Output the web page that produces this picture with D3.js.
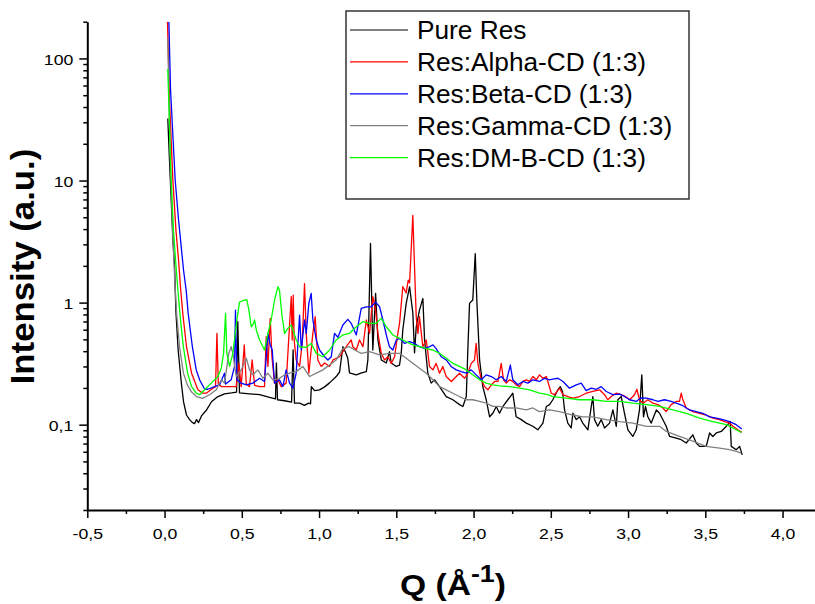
<!DOCTYPE html>
<html>
<head>
<meta charset="utf-8">
<script src="https://cdn.jsdelivr.net/npm/d3@7"></script>
<style>
  body { margin: 0; background: #fff; }
  svg { display: block; font-family: "Liberation Sans", Arial, sans-serif; }
</style>
</head>
<body>
<svg id="chart" width="815" height="604"></svg>
<script>
// SAXS curves: [Q (1/Å), intensity (a.u.)]
const pureRes = [[0.021,32.2],[0.032,14.6],[0.043,6.9],[0.054,3.24],[0.065,1.95],[0.073,0.868],[0.088,0.409],[0.110,0.212],[0.123,0.154],[0.142,0.12],[0.162,0.11],[0.181,0.104],[0.194,0.102],[0.207,0.11],[0.220,0.104],[0.239,0.118],[0.272,0.132],[0.304,0.154],[0.343,0.169],[0.388,0.179],[0.434,0.182],[0.466,0.185],[0.474,0.7],[0.485,0.182],[0.55,0.179],[0.615,0.176],[0.68,0.167],[0.718,0.163],[0.724,0.32],[0.731,0.16],[0.777,0.157],[0.822,0.153],[0.832,0.41],[0.841,0.15],[0.874,0.15],[0.906,0.144],[0.932,0.15],[0.945,0.148],[0.95,0.205],[0.971,0.19],[1.003,0.193],[1.036,0.204],[1.068,0.22],[1.111,0.248],[1.133,0.27],[1.154,0.435],[1.172,0.39],[1.186,0.35],[1.197,0.266],[1.241,0.256],[1.275,0.266],[1.306,0.272],[1.316,0.339],[1.333,3.05],[1.348,0.409],[1.366,1.19],[1.381,0.494],[1.403,0.339],[1.435,0.32],[1.456,0.397],[1.467,0.32],[1.5,0.3],[1.521,0.308],[1.532,0.387],[1.542,0.596],[1.564,0.985],[1.586,1.35],[1.607,0.82],[1.618,0.387],[1.629,0.634],[1.65,0.868],[1.672,1.08],[1.683,0.494],[1.704,0.264],[1.726,0.219],[1.748,0.233],[1.78,0.205],[1.823,0.17],[1.866,0.16],[1.909,0.146],[1.931,0.141],[1.953,0.17],[1.963,0.409],[1.974,0.985],[1.995,1.05],[2.011,2.52],[2.021,1.05],[2.039,0.339],[2.06,0.205],[2.082,0.16],[2.104,0.116],[2.125,0.124],[2.147,0.141],[2.168,0.124],[2.19,0.141],[2.222,0.16],[2.254,0.181],[2.276,0.116],[2.309,0.11],[2.341,0.103],[2.384,0.097],[2.416,0.0908],[2.449,0.103],[2.471,0.141],[2.492,0.146],[2.513,0.16],[2.546,0.193],[2.561,0.205],[2.576,0.187],[2.589,0.132],[2.61,0.103],[2.632,0.094],[2.643,0.124],[2.665,0.11],[2.686,0.116],[2.707,0.103],[2.74,0.0908],[2.762,0.141],[2.772,0.17],[2.783,0.11],[2.804,0.097],[2.826,0.11],[2.848,0.094],[2.88,0.103],[2.902,0.132],[2.924,0.097],[2.934,0.16],[2.956,0.17],[2.977,0.124],[2.999,0.0908],[3.031,0.0801],[3.053,0.0908],[3.074,0.132],[3.089,0.256],[3.1,0.116],[3.113,0.141],[3.128,0.116],[3.15,0.103],[3.183,0.132],[3.204,0.124],[3.247,0.097],[3.269,0.0801],[3.312,0.0776],[3.344,0.0753],[3.377,0.0708],[3.419,0.0825],[3.441,0.0708],[3.463,0.0664],[3.506,0.0664],[3.528,0.0855],[3.549,0.0801],[3.571,0.0855],[3.603,0.088],[3.636,0.097],[3.661,0.106],[3.668,0.0664],[3.7,0.0624],[3.722,0.0664],[3.739,0.0566]];

const alphaCD = [[0.019,200],[0.032,45],[0.054,10],[0.074,3.9],[0.091,2.2],[0.104,1.3],[0.118,0.816],[0.142,0.435],[0.175,0.264],[0.216,0.193],[0.248,0.181],[0.27,0.181],[0.313,0.199],[0.33,0.205],[0.339,0.56],[0.348,0.215],[0.367,0.205],[0.421,0.205],[0.464,0.205],[0.481,0.318],[0.496,0.205],[0.516,0.45],[0.529,0.215],[0.55,0.205],[0.567,0.339],[0.583,0.21],[0.615,0.205],[0.647,0.205],[0.658,0.526],[0.669,0.3],[0.684,0.743],[0.695,0.36],[0.712,0.219],[0.734,0.233],[0.755,0.205],[0.787,0.219],[0.82,1.12],[0.826,0.494],[0.833,1.15],[0.839,0.494],[0.852,0.339],[0.874,0.3],[0.891,0.463],[0.906,1.43],[0.917,0.56],[0.934,0.264],[0.949,0.409],[0.96,0.56],[0.975,0.766],[0.992,0.339],[1.014,0.3],[1.036,0.32],[1.068,0.3],[1.09,0.339],[1.133,0.36],[1.176,0.435],[1.208,0.494],[1.219,0.435],[1.241,0.409],[1.262,0.494],[1.284,0.435],[1.306,0.72],[1.327,0.56],[1.348,1.12],[1.366,0.868],[1.381,0.56],[1.403,0.384],[1.424,0.339],[1.446,0.36],[1.467,0.318],[1.489,0.36],[1.51,0.56],[1.521,0.676],[1.542,1.35],[1.564,1.2],[1.577,1.53],[1.586,1.45],[1.607,5.19],[1.618,1.96],[1.629,0.766],[1.64,0.56],[1.65,0.766],[1.672,0.435],[1.694,0.494],[1.715,0.3],[1.737,0.281],[1.758,0.318],[1.78,0.264],[1.801,0.3],[1.823,0.248],[1.856,0.226],[1.877,0.24],[1.909,0.264],[1.942,0.24],[1.963,0.264],[1.985,0.318],[2.006,0.339],[2.017,0.463],[2.028,0.318],[2.05,0.233],[2.071,0.205],[2.093,0.193],[2.115,0.212],[2.136,0.226],[2.158,0.226],[2.179,0.318],[2.194,0.233],[2.212,0.219],[2.233,0.233],[2.254,0.226],[2.276,0.212],[2.298,0.205],[2.319,0.226],[2.341,0.233],[2.362,0.226],[2.384,0.248],[2.406,0.233],[2.427,0.256],[2.449,0.24],[2.471,0.248],[2.481,0.226],[2.503,0.181],[2.524,0.176],[2.557,0.199],[2.579,0.176],[2.611,0.17],[2.643,0.165],[2.686,0.17],[2.729,0.181],[2.772,0.187],[2.816,0.193],[2.848,0.176],[2.869,0.16],[2.891,0.17],[2.923,0.181],[2.956,0.176],[2.984,0.17],[3.01,0.16],[3.042,0.176],[3.057,0.195],[3.074,0.16],[3.096,0.15],[3.128,0.16],[3.161,0.15],[3.193,0.146],[3.226,0.137],[3.247,0.128],[3.279,0.146],[3.312,0.155],[3.333,0.155],[3.344,0.181],[3.355,0.16],[3.377,0.137],[3.419,0.128],[3.463,0.124],[3.506,0.12],[3.549,0.113],[3.592,0.11],[3.625,0.106],[3.657,0.103],[3.679,0.097],[3.711,0.0908],[3.736,0.0865]];

const betaCD = [[0.028,200],[0.039,54.5],[0.069,10],[0.091,4.72],[0.11,2.69],[0.123,1.84],[0.14,1.26],[0.153,0.816],[0.18,0.435],[0.205,0.281],[0.227,0.233],[0.259,0.196],[0.28,0.195],[0.324,0.205],[0.356,0.212],[0.388,0.264],[0.395,0.215],[0.431,0.233],[0.453,0.3],[0.459,0.868],[0.468,0.233],[0.496,0.219],[0.529,0.212],[0.572,0.219],[0.615,0.24],[0.647,0.226],[0.669,0.56],[0.684,0.45],[0.697,0.409],[0.712,0.219],[0.744,0.233],[0.766,0.205],[0.787,0.281],[0.809,0.219],[0.831,0.199],[0.852,0.264],[0.874,0.79],[0.885,0.409],[0.906,0.72],[0.917,0.56],[0.934,0.985],[0.949,1.19],[0.96,0.72],[0.982,0.494],[1.003,0.409],[1.036,0.36],[1.057,0.339],[1.079,0.36],[1.1,0.56],[1.122,0.52],[1.154,0.655],[1.186,0.729],[1.208,0.676],[1.241,0.543],[1.273,0.897],[1.306,0.924],[1.338,0.924],[1.366,1.01],[1.392,0.924],[1.413,0.72],[1.439,0.52],[1.456,0.435],[1.478,0.409],[1.5,0.494],[1.521,0.51],[1.553,0.463],[1.586,0.478],[1.618,0.463],[1.65,0.435],[1.683,0.42],[1.715,0.435],[1.737,0.45],[1.758,0.42],[1.791,0.36],[1.823,0.339],[1.855,0.3],[1.888,0.281],[1.92,0.272],[1.953,0.264],[1.985,0.281],[2.017,0.256],[2.05,0.233],[2.082,0.256],[2.115,0.248],[2.147,0.233],[2.179,0.248],[2.212,0.226],[2.238,0.308],[2.254,0.233],[2.287,0.212],[2.319,0.226],[2.352,0.219],[2.384,0.233],[2.427,0.226],[2.46,0.24],[2.492,0.233],[2.513,0.236],[2.546,0.24],[2.579,0.226],[2.621,0.199],[2.665,0.212],[2.697,0.219],[2.729,0.19],[2.762,0.199],[2.794,0.195],[2.826,0.205],[2.859,0.187],[2.902,0.176],[2.945,0.178],[2.977,0.17],[3.01,0.16],[3.053,0.155],[3.085,0.166],[3.118,0.165],[3.161,0.16],[3.193,0.155],[3.236,0.16],[3.279,0.155],[3.312,0.15],[3.355,0.143],[3.398,0.132],[3.441,0.128],[3.484,0.124],[3.528,0.116],[3.571,0.113],[3.614,0.11],[3.657,0.106],[3.7,0.1],[3.736,0.092]];

const gammaCD = [[0.021,145],[0.029,45],[0.039,12.1],[0.052,3.9],[0.066,1.53],[0.078,0.816],[0.097,0.435],[0.122,0.264],[0.149,0.21],[0.175,0.185],[0.207,0.17],[0.246,0.164],[0.291,0.176],[0.335,0.193],[0.367,0.233],[0.388,0.219],[0.416,0.384],[0.431,0.435],[0.442,0.384],[0.464,0.248],[0.496,0.281],[0.529,0.35],[0.55,0.281],[0.572,0.256],[0.604,0.281],[0.636,0.24],[0.669,0.264],[0.701,0.233],[0.744,0.24],[0.777,0.256],[0.809,0.264],[0.852,0.272],[0.895,0.3],[0.939,0.248],[0.982,0.264],[1.025,0.281],[1.068,0.308],[1.111,0.339],[1.154,0.42],[1.197,0.435],[1.23,0.409],[1.273,0.384],[1.327,0.397],[1.392,0.373],[1.456,0.384],[1.521,0.384],[1.564,0.35],[1.607,0.318],[1.65,0.29],[1.694,0.264],[1.737,0.233],[1.78,0.205],[1.823,0.193],[1.866,0.181],[1.909,0.17],[1.953,0.16],[1.995,0.16],[2.039,0.155],[2.082,0.15],[2.125,0.141],[2.168,0.141],[2.212,0.137],[2.276,0.137],[2.341,0.132],[2.384,0.137],[2.427,0.128],[2.492,0.132],[2.557,0.128],[2.643,0.12],[2.707,0.116],[2.772,0.116],[2.859,0.11],[2.945,0.106],[3.031,0.103],[3.118,0.097],[3.204,0.097],[3.247,0.088],[3.333,0.0801],[3.419,0.0732],[3.506,0.0664],[3.592,0.0643],[3.657,0.0624],[3.7,0.0603],[3.733,0.0586]];

const dmBetaCD = [[0.021,82],[0.029,37.4],[0.036,18],[0.043,10],[0.058,3.9],[0.074,2.0],[0.088,1.2],[0.1,0.8],[0.12,0.45],[0.149,0.264],[0.175,0.205],[0.205,0.181],[0.227,0.176],[0.259,0.193],[0.302,0.219],[0.345,0.248],[0.367,0.29],[0.382,0.384],[0.395,0.816],[0.403,0.384],[0.421,0.3],[0.442,0.384],[0.468,0.72],[0.485,1.01],[0.518,1.05],[0.533,1.05],[0.546,0.868],[0.561,0.634],[0.572,0.66],[0.583,0.72],[0.594,0.596],[0.615,0.494],[0.647,0.409],[0.669,0.56],[0.69,0.72],[0.712,1.05],[0.734,1.35],[0.744,1.26],[0.761,0.766],[0.777,0.56],[0.798,0.615],[0.82,0.655],[0.831,0.596],[0.852,0.494],[0.874,0.435],[0.917,0.43],[0.949,0.463],[0.982,0.384],[1.025,0.36],[1.068,0.409],[1.111,0.494],[1.154,0.543],[1.197,0.56],[1.241,0.634],[1.284,0.697],[1.327,0.676],[1.37,0.676],[1.403,0.743],[1.435,0.634],[1.478,0.543],[1.521,0.51],[1.564,0.478],[1.607,0.45],[1.65,0.435],[1.694,0.42],[1.737,0.409],[1.78,0.384],[1.823,0.35],[1.866,0.318],[1.909,0.3],[1.953,0.281],[1.995,0.256],[2.039,0.233],[2.082,0.219],[2.125,0.212],[2.168,0.208],[2.233,0.205],[2.298,0.199],[2.362,0.193],[2.427,0.181],[2.481,0.176],[2.513,0.17],[2.6,0.165],[2.686,0.16],[2.772,0.16],[2.859,0.155],[2.945,0.155],[3.031,0.15],[3.118,0.146],[3.204,0.141],[3.29,0.132],[3.377,0.124],[3.463,0.113],[3.549,0.106],[3.636,0.1],[3.7,0.0908],[3.733,0.0865]];

const seriesData = [pureRes, alphaCD, betaCD, gammaCD, dmBetaCD];
const seriesNames = ["Pure Res", "Res:Alpha-CD (1:3)", "Res:Beta-CD (1:3)", "Res:Gamma-CD (1:3)", "Res:DM-B-CD (1:3)"];
const seriesColors = ["#000000", "#ff0000", "#0000ff", "#808080", "#00ff00"];

const xMajorTicks = [-0.5, 0, 0.5, 1.0, 1.5, 2.0, 2.5, 3.0, 3.5, 4.0];
const xMinorTicks = [-0.25, 0.25, 0.75, 1.25, 1.75, 2.25, 2.75, 3.25, 3.75, 4.25];
const yMajorTicks = [0.1, 1, 10, 100];
const yMajorLabels = ["0,1", "1", "10", "100"];

const svg = d3.select("#chart");
svg.append("rect").attr("width", 815).attr("height", 604).attr("fill", "#fff");

const plot = { left: 87.3, right: 815, top: 21.7, bottom: 510 };
const x = d3.scaleLinear().domain([-0.5, 4.21]).range([plot.left, plot.right]);
const y = d3.scaleLog().domain([0.02, 200]).range([plot.bottom, plot.top]);

// minor log ticks: 2..9 within each decade
const yMinorTicks = [];
[0.01, 0.1, 1, 10, 100].forEach(dec => {
  for (let m = 2; m <= 9; m++) {
    const v = +(m * dec).toPrecision(3);
    if (v >= 0.02 && v <= 200) yMinorTicks.push(v);
  }
});

const commaFmt = v => d3.format(".1f")(v).replace(".", ",").replace("−", "-");

// clip region for curves
svg.append("defs").append("clipPath").attr("id", "plotClip")
  .append("rect")
  .attr("x", plot.left).attr("y", plot.top)
  .attr("width", plot.right - plot.left).attr("height", plot.bottom - plot.top);

const line = d3.line().x(d => x(d[0])).y(d => y(d[1]));
const curves = svg.append("g").attr("clip-path", "url(#plotClip)");
seriesData.forEach((data, k) => {
  curves.append("path")
    .datum(data)
    .attr("d", line)
    .attr("fill", "none")
    .attr("stroke", seriesColors[k])
    .attr("stroke-width", 1.3)
    .attr("stroke-linejoin", "round");
});

// x axis
const xAxisG = svg.append("g").attr("transform", `translate(0,${plot.bottom})`);
xAxisG.append("g")
  .call(d3.axisBottom(x).tickValues(xMinorTicks.filter(v => x(v) <= plot.right)).tickSize(4).tickSizeOuter(0).tickFormat(""))
  .call(g => g.select(".domain").remove());
const xMajor = xAxisG.append("g")
  .call(d3.axisBottom(x).tickValues(xMajorTicks).tickSize(8).tickSizeOuter(0).tickFormat(commaFmt));
xMajor.selectAll(".tick text")
  .attr("y", 29).attr("dy", 0)
  .attr("font-size", 15.5)
  .attr("font-family", "Liberation Sans, Arial, sans-serif")
  .attr("fill", "#000")
  .attr("transform", "scale(1.14,1)");

// y axis
const yAxisG = svg.append("g").attr("transform", `translate(${plot.left},0)`);
yAxisG.append("g")
  .call(d3.axisLeft(y).tickValues(yMinorTicks).tickSize(4).tickSizeOuter(0).tickFormat(""))
  .call(g => g.select(".domain").remove());
const yMajor = yAxisG.append("g")
  .call(d3.axisLeft(y).tickValues(yMajorTicks).tickSize(8).tickSizeOuter(0)
    .tickFormat((d, i) => yMajorLabels[i]));
yMajor.selectAll(".tick text")
  .attr("x", 0).attr("dy", "0.36em")
  .attr("font-size", 15.5)
  .attr("font-family", "Liberation Sans, Arial, sans-serif")
  .attr("fill", "#000")
  .attr("transform", "translate(-14,0) scale(1.14,1)");

svg.selectAll(".domain").attr("stroke", "#000").attr("stroke-width", 2);
svg.selectAll(".tick line").attr("stroke", "#000").attr("stroke-width", 1.5);

// axis titles
svg.append("text")
  .attr("transform", "translate(33.5,266.5) rotate(-90) scale(1.07,1)")
  .attr("text-anchor", "middle")
  .attr("font-size", 32.5)
  .attr("font-weight", "bold")
  .attr("fill", "#000")
  .text("Intensity (a.u.)");

const xTitle = svg.append("text")
  .attr("transform", "translate(453,595) scale(1.12,1)")
  .attr("text-anchor", "middle")
  .attr("font-size", 30)
  .attr("font-weight", "bold")
  .attr("fill", "#000");
xTitle.append("tspan").text("Q (Å");
xTitle.append("tspan").attr("font-size", 24).attr("dy", -13).text("-1");
xTitle.append("tspan").attr("dy", 13).text(")");

// legend
const legend = svg.append("g");
legend.append("rect")
  .attr("x", 346).attr("y", 11).attr("width", 343).attr("height", 188)
  .attr("fill", "#fff").attr("stroke", "#333").attr("stroke-width", 1.5);
seriesNames.forEach((name, k) => {
  const base = 39.3 + k * 31.9;
  legend.append("line")
    .attr("x1", 350).attr("x2", 408)
    .attr("y1", base - 9.3).attr("y2", base - 9.3)
    .attr("stroke", seriesColors[k]).attr("stroke-width", 1.2);
  legend.append("text")
    .attr("transform", `translate(417,${base}) scale(1.05,1)`)
    .attr("font-size", 25)
    .attr("fill", "#000")
    .text(name);
});
</script>
</body>
</html>
